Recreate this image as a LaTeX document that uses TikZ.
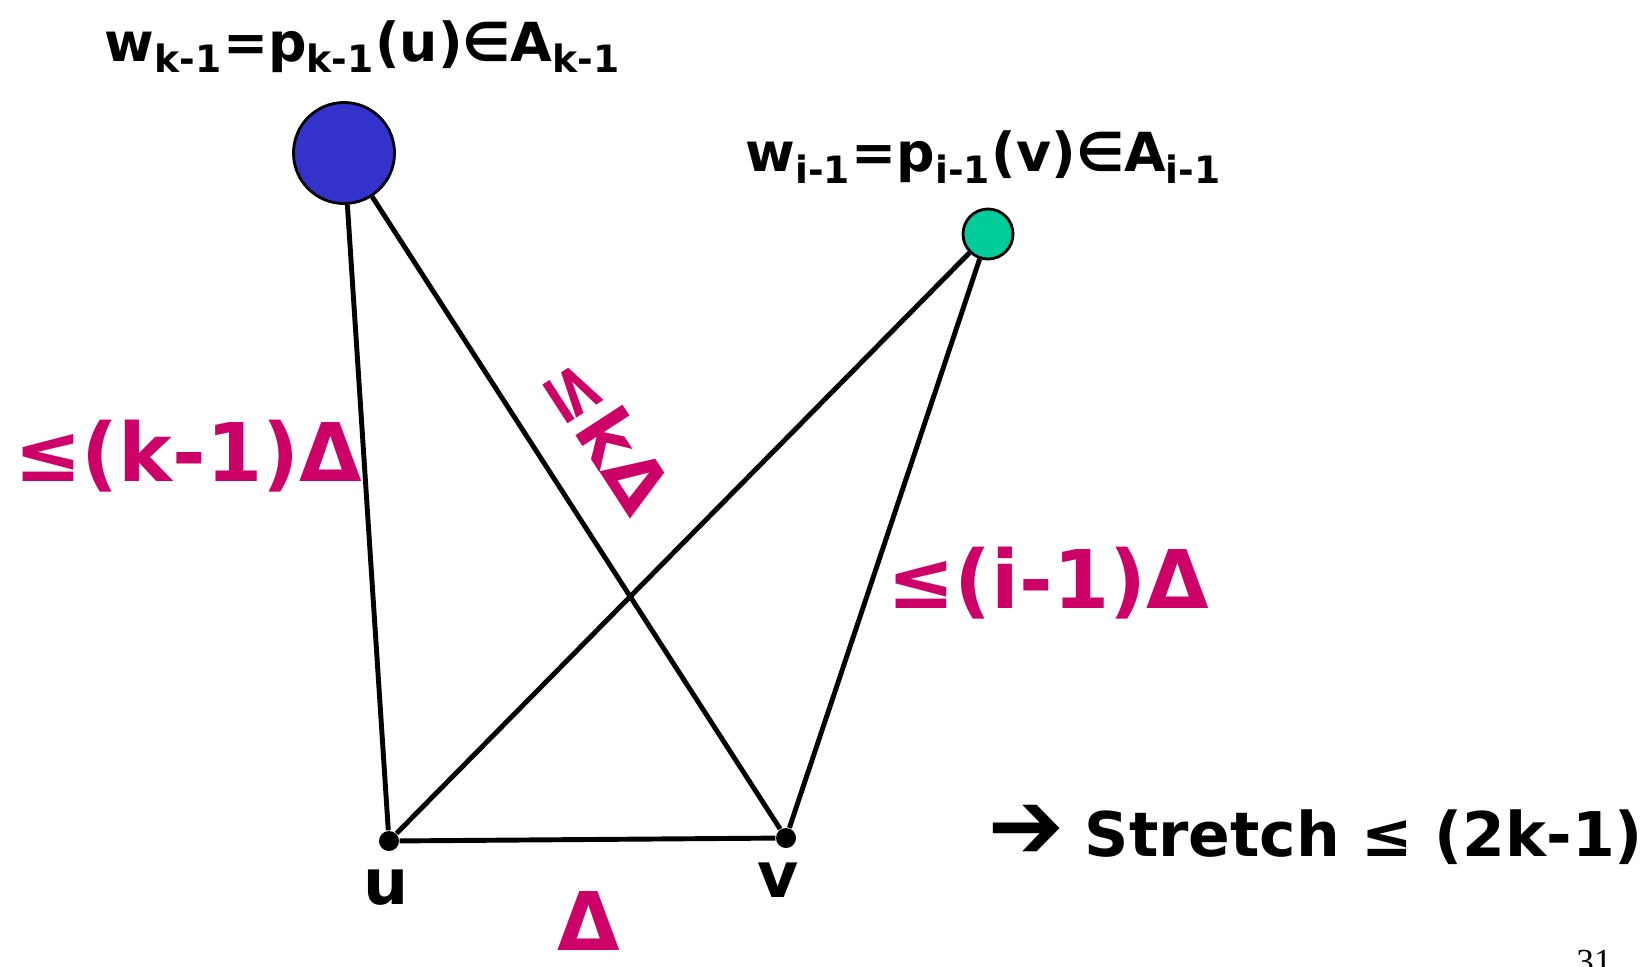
\documentclass[tikz,border=0pt]{standalone}
\usepackage{fontspec}
\setmainfont{DejaVu Sans}
\usepackage{pifont}
\usepackage{tikz}
\usetikzlibrary{positioning}
\definecolor{edgepink}{RGB}{204,0,102}
\definecolor{nodeblue}{RGB}{51,51,204}
\definecolor{nodegreen}{RGB}{0,204,153}

\begin{document}
\begin{tikzpicture}[x=0.01cm, y=-0.01cm,
  vtx/.style={circle, fill=black, inner sep=0pt, minimum size=0.2cm},
  edge/.style={draw=black, line width=1.4pt},
  bound/.style={text=edgepink, font=\fontsize{23}{27}\selectfont\bfseries, inner sep=0pt},
  caption/.style={font=\fontsize{15.3}{18}\selectfont\bfseries, inner sep=0pt}]

\useasboundingbox (0,0) rectangle (1652,966);

\node[circle, draw=black, line width=0.8pt, fill=nodeblue, minimum size=1.01cm, inner sep=0pt] (wk) at (344,153) {};

\node[circle, draw=black, line width=0.8pt, fill=nodegreen, minimum size=0.5cm, inner sep=0pt] (wi) at (988,234) {};

\node[vtx] (u) at (389,841) {};

\node[vtx] (v) at (786,838) {};

\node[caption] (wklabel) at (363,47) {w\textsubscript{k-1}=p\textsubscript{k-1}(u)∈A\textsubscript{k-1}};

\node[caption] (wilabel) at (984,157) {w\textsubscript{i-1}=p\textsubscript{i-1}(v)∈A\textsubscript{i-1}};

\node[caption, font=\fontsize{18}{22}\selectfont\bfseries] (ulabel) at (386,888) {u};

\node[caption, font=\fontsize{18}{22}\selectfont\bfseries] (vlabel) at (778,880) {v};

\draw[edge] (wk) -- (u);

\draw[edge] (wk) -- (v);

\draw[edge] (wi) -- (u);

\draw[edge] (wi) -- (v);

\draw[edge] (u) -- (v);

\node[bound] (bku) at (188,456) {≤(k-1)Δ};

\node[bound, font=\fontsize{21}{25}\selectfont\bfseries, rotate=-57] (bkv) at (608,434) {≤kΔ};

\node[bound] (biv) at (1048,583) {≤(i-1)Δ};

\node[bound] (buv) at (589,921) {Δ};

\node[caption, font=\fontsize{17.5}{21}\selectfont\bfseries] (stretch) at (1317,835) {{\fontsize{23}{21}\selectfont\ding{212}} Stretch ≤ (2k-1)};

\node[font=\fontsize{10}{12}\fontspec{Liberation Serif}, inner sep=0pt, anchor=north] (page) at (1594,949) {31};

\end{tikzpicture}
\end{document}
